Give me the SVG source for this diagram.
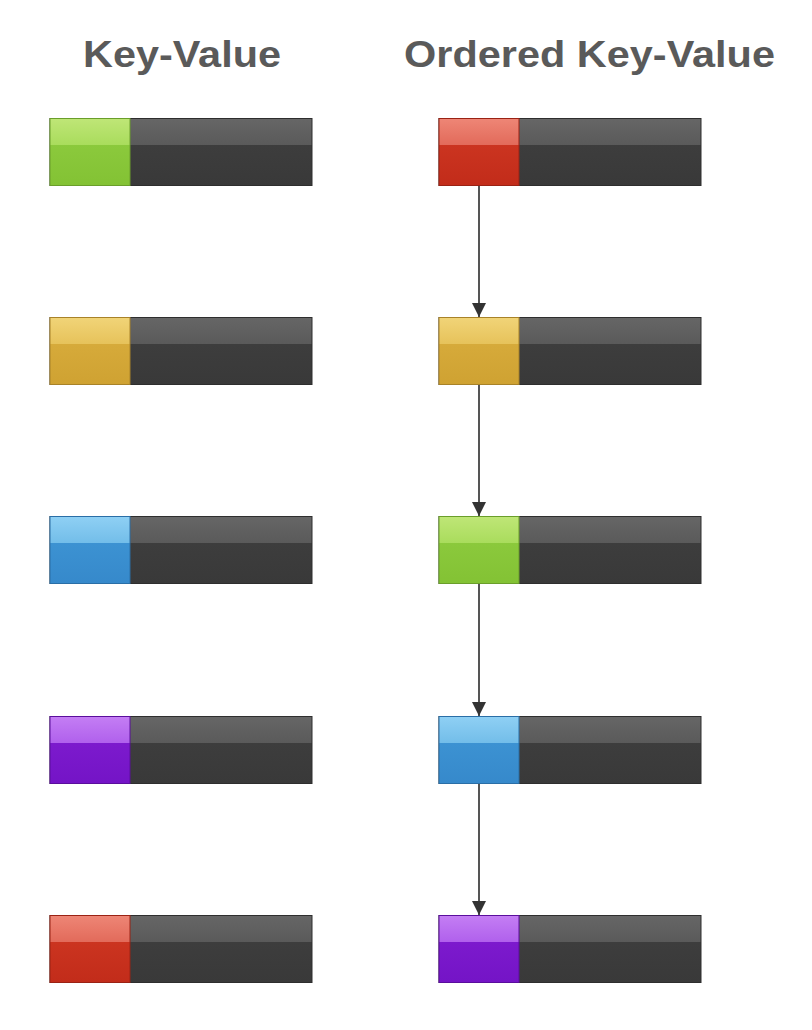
<svg xmlns="http://www.w3.org/2000/svg" width="812" height="1030" viewBox="0 0 812 1030">
  <defs>
    <linearGradient id="gGreen" x1="0" y1="0" x2="0" y2="1">
      <stop offset="0" stop-color="#bfe677"/><stop offset="0.4" stop-color="#a9dc5c"/>
      <stop offset="0.4" stop-color="#8bc93c"/><stop offset="1" stop-color="#83c234"/>
    </linearGradient>
    <linearGradient id="gRed" x1="0" y1="0" x2="0" y2="1">
      <stop offset="0" stop-color="#ee8676"/><stop offset="0.4" stop-color="#e26a5a"/>
      <stop offset="0.4" stop-color="#cb3420"/><stop offset="1" stop-color="#c22c1a"/>
    </linearGradient>
    <linearGradient id="gYellow" x1="0" y1="0" x2="0" y2="1">
      <stop offset="0" stop-color="#f1d478"/><stop offset="0.4" stop-color="#e6c25a"/>
      <stop offset="0.4" stop-color="#d6aa3a"/><stop offset="1" stop-color="#cfa232"/>
    </linearGradient>
    <linearGradient id="gBlue" x1="0" y1="0" x2="0" y2="1">
      <stop offset="0" stop-color="#8fd0f4"/><stop offset="0.4" stop-color="#72bde9"/>
      <stop offset="0.4" stop-color="#3c92d2"/><stop offset="1" stop-color="#3689cb"/>
    </linearGradient>
    <linearGradient id="gPurple" x1="0" y1="0" x2="0" y2="1">
      <stop offset="0" stop-color="#c47ef4"/><stop offset="0.4" stop-color="#b060ec"/>
      <stop offset="0.4" stop-color="#7c1acd"/><stop offset="1" stop-color="#7414c6"/>
    </linearGradient>
    <linearGradient id="gDark" x1="0" y1="0" x2="0" y2="1">
      <stop offset="0" stop-color="#666666"/><stop offset="0.4" stop-color="#5a5a5a"/>
      <stop offset="0.4" stop-color="#3d3d3d"/><stop offset="1" stop-color="#393939"/>
    </linearGradient>
    <marker id="arrow" viewBox="0 0 14 14" refX="14" refY="7" markerWidth="14" markerHeight="14" markerUnits="userSpaceOnUse" orient="auto">
      <path d="M0,0 L14,7 L0,14 Z" fill="#333333"/>
    </marker>
  </defs>
  <style>
    .title { font-family: "Liberation Sans", Arial, sans-serif; font-weight: bold; font-size: 37px; fill: #5a5a5a; }
    .bar { fill: url(#gDark); stroke: #2e2e2e; stroke-width: 1; }
    .key { stroke-width: 1; }
    .conn { stroke: #555555; stroke-width: 2; fill: none; }
  </style>
  <rect width="812" height="1030" fill="#ffffff"/>

  <g id="titles">
    <text class="title" x="83" y="67" textLength="198" lengthAdjust="spacingAndGlyphs">Key-Value</text>
    <text class="title" x="404" y="67" textLength="371" lengthAdjust="spacingAndGlyphs">Ordered Key-Value</text>
  </g>

  <!-- Left column: unordered key-value -->
  <g id="kv1"><rect class="bar" x="50" y="118.5" width="262" height="67"/><rect class="key" x="50" y="118.5" width="80" height="67" fill="url(#gGreen)" stroke="#6a9e2a"/></g>
  <g id="kv2"><rect class="bar" x="50" y="317.5" width="262" height="67"/><rect class="key" x="50" y="317.5" width="80" height="67" fill="url(#gYellow)" stroke="#a88228"/></g>
  <g id="kv3"><rect class="bar" x="50" y="516.5" width="262" height="67"/><rect class="key" x="50" y="516.5" width="80" height="67" fill="url(#gBlue)" stroke="#2a6ea6"/></g>
  <g id="kv4"><rect class="bar" x="50" y="716.5" width="262" height="67"/><rect class="key" x="50" y="716.5" width="80" height="67" fill="url(#gPurple)" stroke="#5a0e9c"/></g>
  <g id="kv5"><rect class="bar" x="50" y="915.5" width="262" height="67"/><rect class="key" x="50" y="915.5" width="80" height="67" fill="url(#gRed)" stroke="#9a2214"/></g>

  <!-- Right column: ordered key-value -->
  <g id="okv1"><rect class="bar" x="439" y="118.5" width="262" height="67"/><rect class="key" x="439" y="118.5" width="80" height="67" fill="url(#gRed)" stroke="#9a2214"/></g>
  <g id="okv2"><rect class="bar" x="439" y="317.5" width="262" height="67"/><rect class="key" x="439" y="317.5" width="80" height="67" fill="url(#gYellow)" stroke="#a88228"/></g>
  <g id="okv3"><rect class="bar" x="439" y="516.5" width="262" height="67"/><rect class="key" x="439" y="516.5" width="80" height="67" fill="url(#gGreen)" stroke="#6a9e2a"/></g>
  <g id="okv4"><rect class="bar" x="439" y="716.5" width="262" height="67"/><rect class="key" x="439" y="716.5" width="80" height="67" fill="url(#gBlue)" stroke="#2a6ea6"/></g>
  <g id="okv5"><rect class="bar" x="439" y="915.5" width="262" height="67"/><rect class="key" x="439" y="915.5" width="80" height="67" fill="url(#gPurple)" stroke="#5a0e9c"/></g>

  <g id="connectors">
    <line class="conn" x1="479" y1="186" x2="479" y2="317" marker-end="url(#arrow)"/>
    <line class="conn" x1="479" y1="385" x2="479" y2="516" marker-end="url(#arrow)"/>
    <line class="conn" x1="479" y1="584" x2="479" y2="716" marker-end="url(#arrow)"/>
    <line class="conn" x1="479" y1="784" x2="479" y2="915" marker-end="url(#arrow)"/>
  </g>
</svg>
